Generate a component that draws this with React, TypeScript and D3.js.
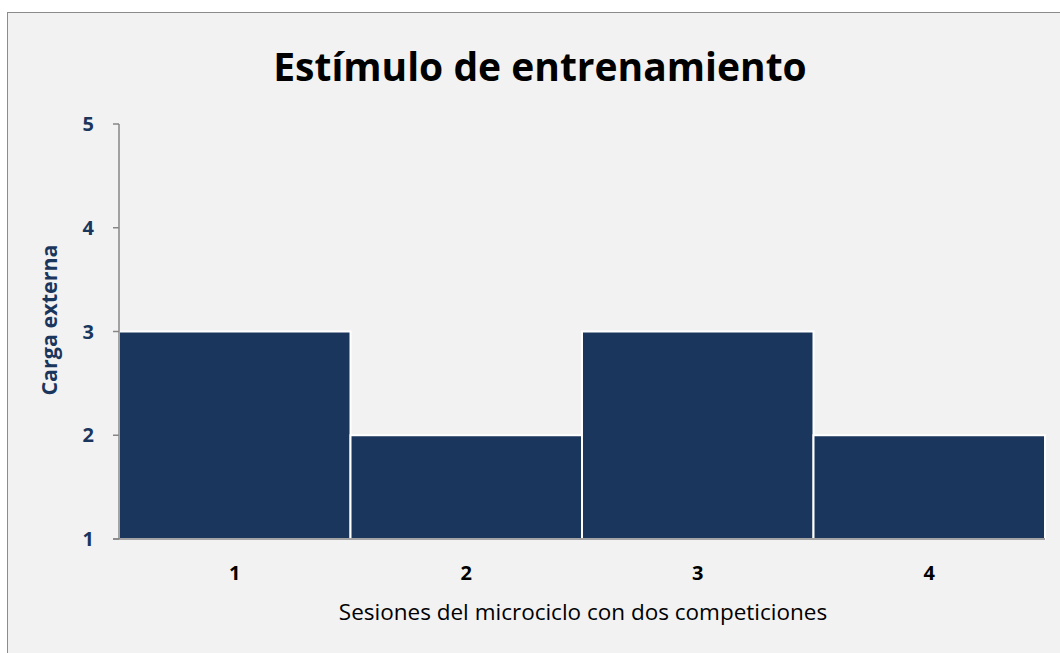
import React from "react";
import * as d3 from "d3";

const categories = ["1", "2", "3", "4"];
const values = [3, 2, 3, 2];
const yTicks = [1, 2, 3, 4, 5];
const title = "Estímulo de entrenamiento";
const yTitle = "Carga externa";
const xTitle = "Sesiones del microciclo con dos competiciones";

export default function App() {
  const W = 1060, H = 653;
  const left = 119, right = 1045, top = 124, bottom = 539;
  const x = d3.scaleBand<string>().domain(categories).range([left, right]).padding(0);
  const y = d3.scaleLinear().domain([1, 5]).range([bottom, top]);
  const font = "'Open Sans', 'Liberation Sans', sans-serif";
  const navy = "#1b365d";
  return (
    <svg width={W} height={H} style={{ position: "absolute", left: 0, top: 0, fontFamily: font }}>
      <rect x={0} y={0} width={W} height={H} fill="#ffffff" />
      <rect x={7.5} y={12.5} width={W + 10} height={H + 10} fill="#f2f2f2" stroke="#8c8c8c" strokeWidth={1} />
      <text x={540} y={81} textAnchor="middle" fontSize={39} fontWeight="bold" fill="#000">{title}</text>
      {categories.map((c, i) => (
        <rect key={c} x={x(c)!} y={y(values[i])} width={x.bandwidth()} height={bottom - y(values[i])}
          fill={navy} stroke="#ffffff" strokeWidth={2} />
      ))}
      <line x1={left} x2={left} y1={top} y2={bottom} stroke="#868686" strokeWidth={1.5} />
      {yTicks.map(t => (
        <g key={t}>
          <line x1={left - 6} x2={left} y1={y(t)} y2={y(t)} stroke="#868686" strokeWidth={1.5} />
          <text x={94} y={y(t)} dy="0.35em" textAnchor="end" fontSize={20} fontWeight="bold" fill={navy}>{t}</text>
        </g>
      ))}
      <line x1={left - 6} x2={right} y1={bottom} y2={bottom} stroke="#868686" strokeWidth={1.5} />
      {categories.map(c => (
        <text key={c} x={x(c)! + x.bandwidth() / 2} y={573} dy="0.35em" textAnchor="middle" fontSize={20} fontWeight="bold" fill="#000">{c}</text>
      ))}
      <text transform={`translate(49,320) rotate(-90)`} textAnchor="middle" dy="0.35em" fontSize={21.5} fontWeight="bold" fill={navy}>{yTitle}</text>
      <text x={583} y={612} dy="0.35em" textAnchor="middle" fontSize={22.5} fill="#000">{xTitle}</text>
    </svg>
  );
}
